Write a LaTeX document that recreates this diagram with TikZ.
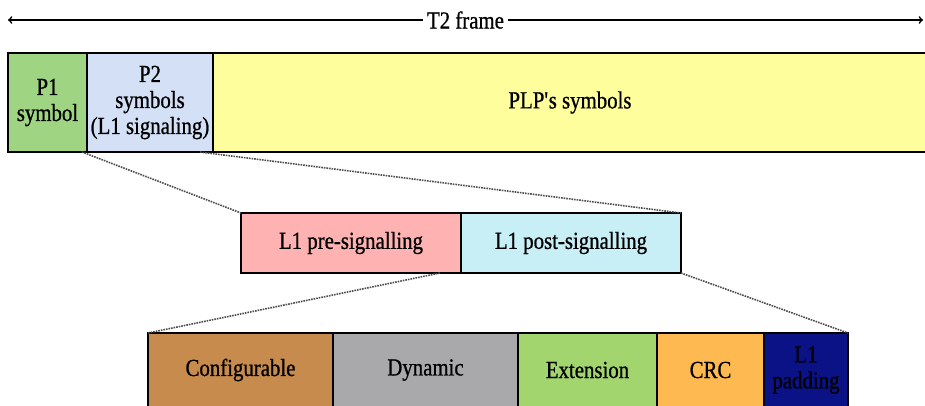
\documentclass[tikz,border=0pt]{standalone}
\usepackage{fontspec}
\setmainfont{Liberation Serif}[FakeStretch=0.85, FakeBold=0.8]
\usepackage{tikz}
\usetikzlibrary{positioning}

\definecolor{pone}{HTML}{9FD582}
\definecolor{ptwo}{HTML}{D4E0F6}
\definecolor{plp}{HTML}{FEFE9C}
\definecolor{pre}{HTML}{FEB2B2}
\definecolor{post}{HTML}{C8EEF6}
\definecolor{conf}{HTML}{C88B4E}
\definecolor{dyn}{HTML}{A9A8AA}
\definecolor{ext}{HTML}{A2D56E}
\definecolor{crc}{HTML}{FEBA50}
\definecolor{pad}{HTML}{0B1285}

\tikzset{
  cell/.style={draw, line width=1.8pt, outer sep=0pt, inner sep=0pt, align=center,
    font=\fontsize{24.5}{26}\selectfont},
  zoom/.style={densely dotted, line width=1.6pt, black!70}
}

\begin{document}
\begin{tikzpicture}[x=1pt, y=-1pt]
\clip (0,0) rectangle (925,405);
\fill[white] (0,0) rectangle (925,405);
% frame length
\coordinate (fl) at (8,20);
\coordinate (fr) at (923,20);
\draw[<->, line width=1.7pt] (fl) -- (fr) node[midway, fill=white, inner sep=4pt, font=\fontsize{24.5}{26}\selectfont] (t2) {T2 frame};
% T2 frame
\node[cell, fill=pone, minimum width=79pt, minimum height=99pt, anchor=north west] (p1) at (8,53) {P1\\symbol};
\node[cell, fill=ptwo, minimum width=126pt, minimum height=99pt, right=0pt of p1] (p2) {P2\\symbols\\(L1 signaling)};
\node[cell, fill=plp, minimum width=714pt, minimum height=99pt, right=0pt of p2] (plp) {PLP\textquotesingle s symbols};
% L1 signalling
\node[cell, fill=pre, minimum width=220pt, minimum height=60pt, anchor=north west] (l1pre) at (241,213) {L1 pre-signalling};
\node[cell, fill=post, minimum width=220pt, minimum height=60pt, right=0pt of l1pre] (l1post) {L1 post-signalling};
 \draw[zoom] ([xshift=-5pt]p1.south east) -- (l1pre.north west);
 \draw[zoom] ([xshift=-13pt]p2.south east) -- (l1post.north east);
% L1 post-signalling fields
\node[cell, fill=conf, minimum width=185pt, minimum height=74pt, anchor=north west] (conf) at (148,333) {Configurable};
\node[cell, fill=dyn, minimum width=185pt, minimum height=74pt, right=0pt of conf] (dyn) {Dynamic};
\node[cell, fill=ext, minimum width=139pt, minimum height=74pt, right=0pt of dyn] (ext) {Extension};
\node[cell, fill=crc, minimum width=107pt, minimum height=74pt, right=0pt of ext] (crc) {CRC};
\node[cell, fill=pad, minimum width=84pt, minimum height=74pt, right=0pt of crc] (pad) {L1\\padding};
 \draw[zoom] ([xshift=-21pt]l1pre.south east) -- (conf.north west);
 \draw[zoom] (l1post.south east) -- (pad.north east);
\end{tikzpicture}
\end{document}
